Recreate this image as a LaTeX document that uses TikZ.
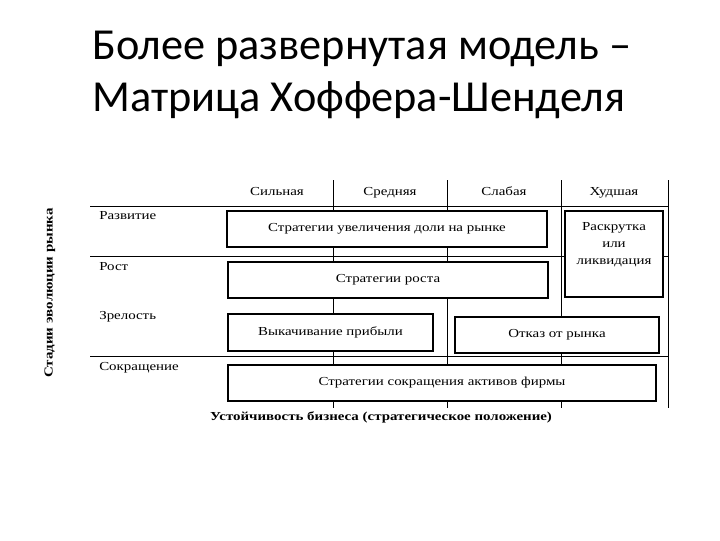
\documentclass[tikz,border=0pt]{standalone}
\usepackage{fontspec}
\setmainfont{Liberation Serif}
\newfontfamily\titulo{Carlito}
\newfontfamily\tabla[FakeStretch=1.22]{Liberation Serif}
\usetikzlibrary{positioning}

\tikzset{
  rejilla/.style={line width=0.6pt},
  caja/.style={draw=black, fill=white, line width=1.8pt, inner sep=0pt,
    font=\tabla\fontsize{8.7}{12}\selectfont},
  etiqueta/.style={inner sep=0pt, font=\tabla\fontsize{8.7}{12}\selectfont},
  eje/.style={inner sep=0pt, font=\tabla\bfseries\fontsize{8.7}{12}\selectfont},
}

\begin{document}
\begin{tikzpicture}[x=0.025cm, y=-0.025cm]
            \useasboundingbox (0,0) rectangle (720,540);

            % TITULO
            \node[anchor=base west, inner sep=0pt, font=\titulo\fontsize{31.5}{37}\selectfont]
              (titulo1) at (92,59) {Более развернутая модель –};
            \node[anchor=base west, inner sep=0pt, font=\titulo\fontsize{31.5}{37}\selectfont]
              (titulo2) at (92,111) {Матрица Хоффера-Шенделя};

            % REJILLA
            \foreach \y in {206,256,356}
              \draw[rejilla] (90,\y) -- (668,\y);
            \foreach \x in {333,447,561,668}
              \draw[rejilla] (\x,180) -- (\x,408);

            % COLUMNAS (posicion)
            \foreach \x/\t/\n in {277/Сильная/sil, 390/Средняя/sre, 504/Слабая/sla, 614/Худшая/hud}
              \node[etiqueta, anchor=base] (\n) at (\x,195) {\t};

            % FILAS (etapas)
            \foreach \y/\t/\n in {219/Развитие/raz, 270/Рост/ros, 319/Зрелость/zre, 370/Сокращение/sok}
              \node[etiqueta, anchor=base west] (\n) at (99,\y) {\t};

            % ESTRATEGIAS
            \node[caja, minimum width=8cm, minimum height=0.9cm] (aum) at (387,229)
              {Стратегии увеличения доли на рынке};
            \node[caja, minimum width=2.45cm, minimum height=2.15cm] (rask) at (614,254) {};
            \node[etiqueta, align=center] (raskt) at (614,245) {Раскрутка\\или\\ликвидация};
            \node[caja, minimum width=8cm, minimum height=0.9cm] (crec) at (388,280)
              {Стратегии роста};
            \node[caja, minimum width=5.125cm, minimum height=0.925cm] (vyk) at (330.5,332.5)
              {Выкачивание прибыли};
            \node[caja, minimum width=5.1cm, minimum height=0.9cm] (otk) at (557,335)
              {Отказ от рынка};
            \node[caja, minimum width=10.7cm, minimum height=0.9cm] (sokr) at (442,383)
              {Стратегии сокращения активов фирмы};

            % EJES
            \node[eje, anchor=base] (ejex) at (381,420)
              {Устойчивость бизнеса (стратегическое положение)};
            \node[eje, rotate=90] (ejey) at (50,293) {Стадии эволюции рынка};
        \end{tikzpicture}
\end{document}
